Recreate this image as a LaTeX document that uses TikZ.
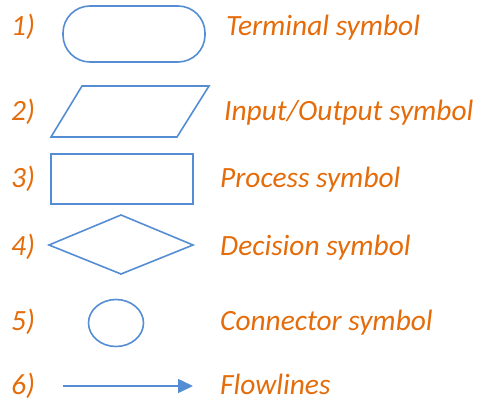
\documentclass[tikz,border=0pt]{standalone}
\usepackage{fontspec}
\setmainfont{Carlito}
\usetikzlibrary{arrows.meta}
\definecolor{symblue}{RGB}{84,141,212}
\definecolor{labelorange}{RGB}{228,108,10}
\begin{document}
\begin{tikzpicture}[x=1pt,y=-1pt,
  symline/.style={draw=symblue,line width=1.6pt,line join=miter},
  lbl/.style={anchor=base west,inner sep=0pt,text=labelorange,
    font=\fontsize{29.4}{35}\selectfont\itshape}]
\useasboundingbox (0,0) rectangle (478,401);

% row numbers
\node[lbl] (n1) at (11,36)  {1)};
\node[lbl] (n2) at (11,120) {2)};
\node[lbl] (n3) at (11,187) {3)};
\node[lbl] (n4) at (11,255) {4)};
\node[lbl] (n5) at (11,330) {5)};
\node[lbl] (n6) at (11,394) {6)};

% symbols
\draw[symline,rounded corners=27pt] (63,6) rectangle (205,62);
\draw[symline] (82,86) -- (209,86) -- (177,137) -- (51,137) -- cycle;
\draw[symline] (51,154) rectangle (193,204);
\draw[symline] (49,245) -- (121,215) -- (193,245) -- (121,274) -- cycle;
\draw[symline] (116,323) ellipse [x radius=27.5, y radius=23.5];
\coordinate (fa) at (63,386);
\coordinate (fb) at (193,386);
\draw[symline,-{Triangle[length=15pt,width=14pt]}] (fa) -- (fb);

% descriptions
\node[lbl] (t1) at (226,36)  {Terminal symbol};
\node[lbl] (t2) at (224,120) {Input/Output symbol};
\node[lbl] (t3) at (220,187) {Process symbol};
\node[lbl] (t4) at (220,255) {Decision symbol};
\node[lbl] (t5) at (220,330) {Connector symbol};
\node[lbl] (t6) at (220,394) {Flowlines};
\end{tikzpicture}
\end{document}
